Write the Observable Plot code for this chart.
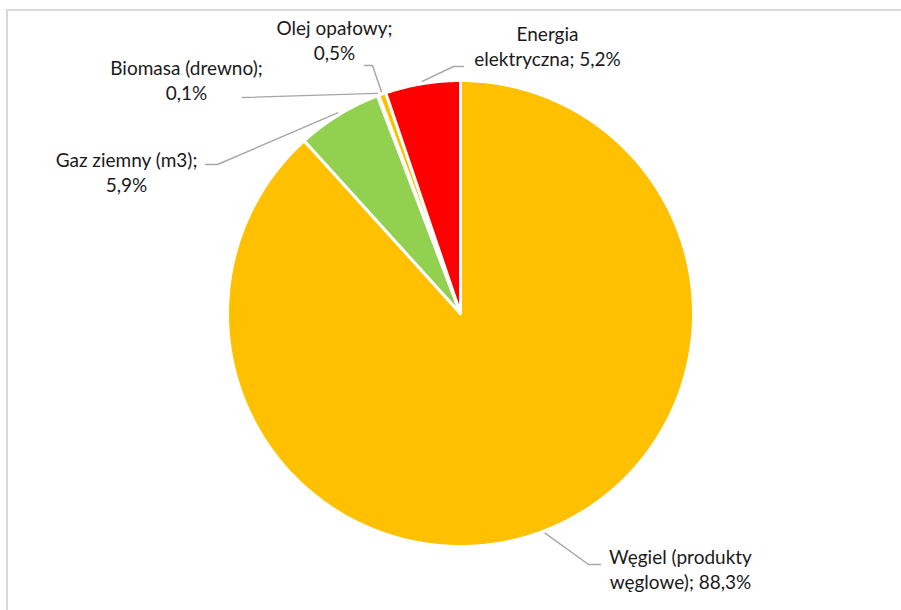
<!DOCTYPE html>
<html><head><meta charset="utf-8">
<script src="https://cdn.jsdelivr.net/npm/d3@7"></script>
<script src="https://cdn.jsdelivr.net/npm/@observablehq/plot@0.6"></script>
<style>
body{margin:0;background:#fff;overflow:hidden}
#wrap{position:relative;width:901px;height:610px;overflow:hidden;background:#fff}
#frame{position:absolute;left:6px;top:9px;width:1000px;height:1000px;border:2px solid #D9D9D9;box-sizing:border-box}
#chart{position:absolute;left:0;top:0}
</style></head><body>
<div id="wrap"><div id="frame"></div><div id="chart"></div></div>
<script>
// ---- data ----
const categories = ["Węgiel (produkty węglowe)", "Gaz ziemny (m3)", "Biomasa (drewno)", "Olej opałowy", "Energia elektryczna"];
const shares = [88.3, 5.9, 0.1, 0.5, 5.2];
const labelTexts = ["Węgiel (produkty\nwęglowe); 88,3%", "Gaz ziemny (m3);\n5,9%", "Biomasa (drewno);\n0,1%", "Olej opałowy;\n0,5%", "Energia\nelektryczna; 5,2%"];

// ---- styles / layout (pixel space of the 901x610 chart) ----
const colors = ["#FFC000", "#92D050", "#7F6000", "#FFC000", "#FF0000"];
const CX = 460, CY = 313, R = 233;
const toX = px => (px - CX) / R, toY = py => (CY - py) / R;
// label block centre, leader elbow, leader end
const labelLayout = [
  {lx: 680, ly: 568, elbow: [588, 564], end: [600, 564]},
  {lx: 126, ly: 171, elbow: [217, 164], end: [205, 164]},
  {lx: 186, ly: 79, elbow: null, end: [242, 97]},
  {lx: 334, ly: 38.5, elbow: [372, 65], end: [364, 65]},
  {lx: 547, ly: 45, elbow: [453, 66], end: [463, 66]}
];

// ---- geometry from data ----
const total = d3.sum(shares);
let acc = 0;
const slices = shares.map((v, i) => {
  const a0 = acc / total * 2 * Math.PI;
  acc += v;
  const a1 = acc / total * 2 * Math.PI;
  const pts = [{x: 0, y: 0}];
  const n = Math.max(2, Math.ceil((a1 - a0) / (Math.PI / 360)));
  for (let k = 0; k <= n; k++) {
    const a = a0 + (a1 - a0) * k / n;
    pts.push({x: Math.sin(a), y: Math.cos(a)});
  }
  return {cat: categories[i], a0, a1, mid: (a0 + a1) / 2, pts, color: colors[i]};
});

const leaderRows = [];
slices.forEach((s, i) => {
  const L = labelLayout[i];
  leaderRows.push({cat: s.cat, x: 1.01 * Math.sin(s.mid), y: 1.01 * Math.cos(s.mid)});
  if (L.elbow) leaderRows.push({cat: s.cat, x: toX(L.elbow[0]), y: toY(L.elbow[1])});
  leaderRows.push({cat: s.cat, x: toX(L.end[0]), y: toY(L.end[1])});
});
const labelRows = slices.map((s, i) => ({cat: s.cat, text: labelTexts[i], x: toX(labelLayout[i].lx), y: toY(labelLayout[i].ly)}));

const chart = Plot.plot({
  width: 901, height: 610,
  marginLeft: CX - R, marginRight: 901 - (CX + R),
  marginTop: CY - R, marginBottom: 610 - (CY + R),
  x: {domain: [-1, 1], axis: null},
  y: {domain: [-1, 1], axis: null},
  style: {background: "transparent"},
  marks: [
    ...slices.map(s => Plot.line(s.pts, {x: "x", y: "y", fill: s.color, stroke: "white", strokeWidth: 3, strokeLinejoin: "round", curve: "linear-closed"})),
    Plot.line(leaderRows, {x: "x", y: "y", z: "cat", stroke: "#A6A6A6", strokeWidth: 1.4}),
    Plot.text(labelRows, {x: "x", y: "y", text: "text", textAnchor: "middle", lineAnchor: "middle", lineHeight: 1.32, fontSize: 19, fontFamily: "Lato", fill: "#1a1a1a"})
  ]
});
document.getElementById("chart").appendChild(chart);
</script>
</body></html>
